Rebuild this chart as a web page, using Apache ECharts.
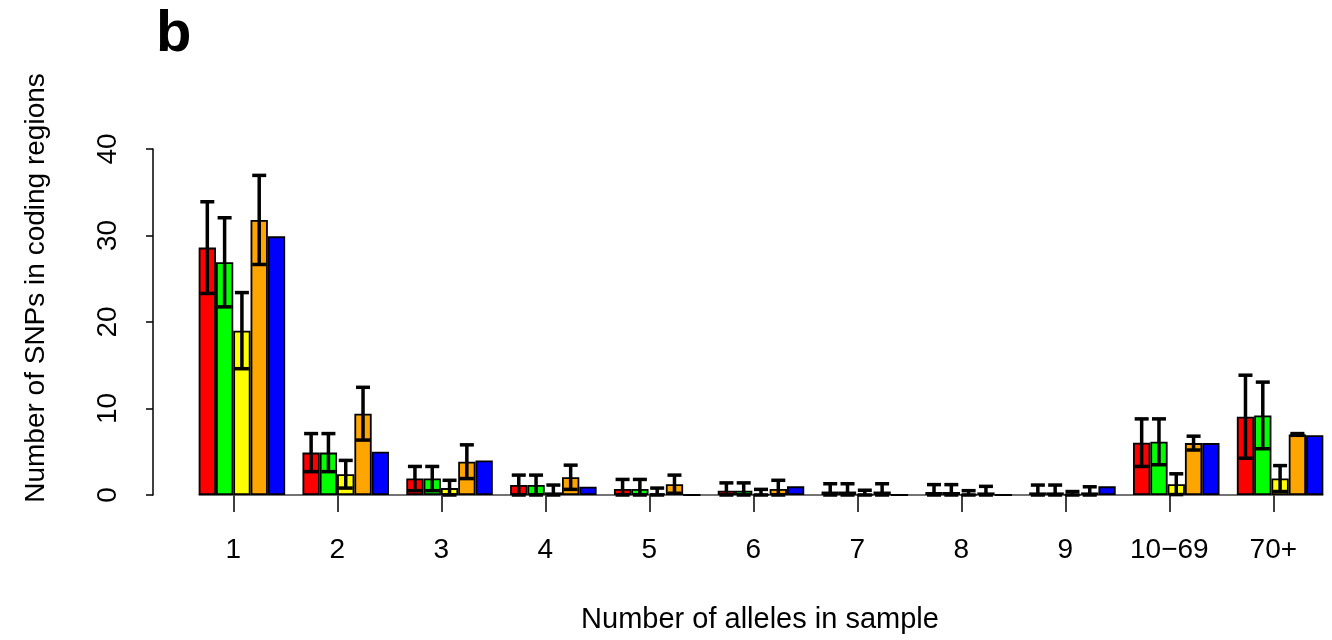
<!DOCTYPE html>
<html>
<head>
<meta charset="utf-8">
<title>SNPs in coding regions</title>
<script src="https://cdn.jsdelivr.net/npm/echarts@6/dist/echarts.min.js"></script>
<style>
  html, body { margin: 0; padding: 0; background: #fff; }
  #chart { width: 1332px; height: 640px; }
</style>
</head>
<body>
<div id="chart"></div>
<script>
// categories (number of alleles in sample)
var groups = ['1', '2', '3', '4', '5', '6', '7', '8', '9', '10\u221269', '70+'];
var yTicks = [0, 10, 20, 30, 40];

// bar heights per series
var red    = [28.6, 4.9, 1.9, 1.15, 0.7, 0.5, 0.4, 0.35, 0.3, 6.05, 9.05];
var green  = [26.9, 4.9, 1.9, 1.15, 0.7, 0.5, 0.4, 0.35, 0.3, 6.15, 9.2];
var yellow = [19.0, 2.4, 0.8, 0.3, 0.2, 0.1, 0.1, 0.1, 0.1, 1.25, 1.9];
var orange = [31.8, 9.4, 3.85, 2.05, 1.25, 0.7, 0.4, 0.3, 0.3, 6.0, 7.0];
var blue   = [29.9, 5.0, 4.0, 0.95, 0, 1.0, 0, 0, 1.0, 6.0, 6.9];

// half-length of the error bars (first four series only)
var redErr    = [5.3, 2.2, 1.4, 1.15, 1.1, 0.9, 0.9, 0.85, 0.85, 2.75, 4.8];
var greenErr  = [5.15, 2.2, 1.4, 1.15, 1.1, 0.9, 0.9, 0.85, 0.85, 2.65, 3.85];
var yellowErr = [4.4, 1.6, 0.9, 0.85, 0.6, 0.55, 0.45, 0.4, 0.3, 1.2, 1.5];
var orangeErr = [5.15, 3.05, 1.95, 1.4, 1.05, 1.0, 0.9, 0.7, 0.65, 0.8, 0.1];

var colors = ['#ff0000', '#00ff00', '#ffff00', '#ffa500', '#0000ff'];
var means = [red, green, yellow, orange, blue];
var errs = [redErr, greenErr, yellowErr, orangeErr];
var FONT = '"Liberation Sans", Arial, Helvetica, sans-serif';

var errData = [];
errs.forEach(function (e, s) {
  e.forEach(function (v, i) {
    var m = means[s][i];
    errData.push([i, Math.max(0, m - v), m + v, s]);
  });
});

var chart = echarts.init(document.getElementById('chart'));

var barSeries = means.map(function (d, s) {
  return {
    type: 'bar',
    xAxisIndex: 0,
    yAxisIndex: 0,
    data: d,
    barWidth: '16.6667%',
    barGap: '0%',
    itemStyle: { color: colors[s], borderColor: '#000', borderWidth: 1.8 },
    animation: false
  };
});

var option = {
  animation: false,
  grid: [
    { left: 190, width: 1144, top: 149, height: 346 },
    { left: 181.33, width: 1144, top: 149, height: 346 }
  ],
  xAxis: [
    {
      type: 'category', gridIndex: 0, data: groups,
      axisLine: { show: false }, axisTick: { show: false }, axisLabel: { show: false }
    },
    {
      type: 'category', gridIndex: 1, data: groups, boundaryGap: true,
      axisLine: { show: false },
      axisTick: { show: true, alignWithLabel: true, length: 17, lineStyle: { color: '#000', width: 1.5 } },
      axisLabel: { color: '#000', fontSize: 28, fontFamily: FONT, margin: 41, interval: 0 }
    }
  ],
  yAxis: [
    {
      type: 'value', gridIndex: 0, min: 0, max: 40, interval: 10, offset: 37,
      axisLine: { show: true, lineStyle: { color: '#000', width: 1.5 } },
      axisTick: { show: true, length: 7, lineStyle: { color: '#000', width: 1.5 } },
      axisLabel: {
        color: '#000', fontSize: 28, fontFamily: FONT, rotate: 90, margin: 31,
        formatter: function (v) { return yTicks.indexOf(v) >= 0 ? String(v) : ''; }
      },
      splitLine: { show: false }
    },
    { type: 'value', gridIndex: 1, min: 0, max: 40, show: false, splitLine: { show: false } }
  ],
  series: barSeries.concat([
    {
      // baseline under the bars
      type: 'custom',
      xAxisIndex: 0, yAxisIndex: 0,
      data: [[0, 0]],
      z: 1,
      renderItem: function (params, api) {
        var barW = api.size([1, 0])[0] / 6;
        var a = api.coord([0, 0]);
        var b = api.coord([groups.length - 1, 0]);
        return {
          type: 'line',
          shape: { x1: a[0] - 2.5 * barW, y1: a[1], x2: b[0] + 2.5 * barW, y2: b[1] },
          style: { stroke: '#444', lineWidth: 1.5 }
        };
      }
    },
    {
      // error bars
      type: 'custom',
      xAxisIndex: 0, yAxisIndex: 0,
      data: errData,
      z: 10,
      renderItem: function (params, api) {
        var i = api.value(0), s = api.value(3);
        var barW = api.size([1, 0])[0] / 6;
        var lo = api.coord([i, api.value(1)]);
        var hi = api.coord([i, api.value(2)]);
        var x = lo[0] + (s - 2) * barW;
        var cap = 7;
        var st = { stroke: '#000', lineWidth: 3.5 };
        return {
          type: 'group',
          children: [
            { type: 'line', shape: { x1: x, y1: lo[1], x2: x, y2: hi[1] }, style: st },
            { type: 'line', shape: { x1: x - cap, y1: hi[1], x2: x + cap, y2: hi[1] }, style: st },
            { type: 'line', shape: { x1: x - cap, y1: lo[1], x2: x + cap, y2: lo[1] }, style: st }
          ]
        };
      }
    }
  ]),
  graphic: [
    {
      type: 'text', left: 156, top: 6,
      style: { text: 'b', font: 'bold 58px ' + FONT, fill: '#000' }
    },
    {
      type: 'text', x: 36, y: 288, rotation: Math.PI / 2,
      style: { text: 'Number of SNPs in coding regions', font: '28px ' + FONT, fill: '#000',
               textAlign: 'center', textVerticalAlign: 'middle' }
    },
    {
      type: 'text', x: 760, y: 620,
      style: { text: 'Number of alleles in sample', font: '29px ' + FONT, fill: '#000',
               textAlign: 'center', textVerticalAlign: 'middle' }
    }
  ]
};

chart.setOption(option);
</script>
</body>
</html>
